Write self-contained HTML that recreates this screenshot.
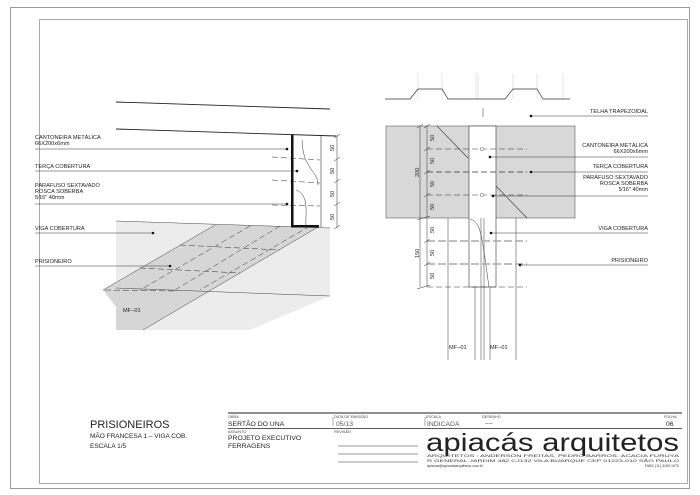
<!DOCTYPE html>
<html><head><meta charset="utf-8"><style>
html,body{margin:0;padding:0;background:#fff;}
svg{display:block;font-family:"Liberation Sans",sans-serif;}
.t{font-size:5.6px;fill:#222;}
.tr{font-size:5.6px;fill:#222;text-anchor:end;}
</style></head><body>
<svg width="700" height="495" viewBox="0 0 700 495" xmlns="http://www.w3.org/2000/svg">
<rect x="10.5" y="7.5" width="679" height="481" fill="none" stroke="#999" stroke-width="1"/>
<rect x="39.5" y="19.5" width="648" height="464" fill="none" stroke="#aaa" stroke-width="1"/>

<!-- LEFT DRAWING -->
<polygon points="116,221 330,228 330,330 116,330" fill="#ececec"/>
<polygon points="330,296 330,330 250,330" fill="#fff"/>
<polygon points="215,225 318,227 143,330 116,330 116,307 103,290" fill="#d6d6d6"/>
<line x1="116" y1="102" x2="330" y2="109" stroke="#222" stroke-width="0.9"/>
<line x1="116" y1="129" x2="336" y2="136" stroke="#222" stroke-width="0.9"/>
<line x1="116" y1="221" x2="330" y2="228" stroke="#444" stroke-width="0.5"/>
<line x1="116" y1="288" x2="330" y2="296" stroke="#444" stroke-width="0.5"/>
<line x1="215" y1="225" x2="103" y2="290" stroke="#444" stroke-width="0.5"/>
<line x1="318" y1="227" x2="143" y2="330" stroke="#444" stroke-width="0.5"/>
<g stroke="#333" stroke-width="0.5" stroke-dasharray="6,3" fill="none">
<line x1="180" y1="245" x2="280" y2="250"/>
<line x1="140" y1="268" x2="240" y2="273"/>
<line x1="105" y1="290" x2="175" y2="291"/>
<line x1="250" y1="226" x2="140" y2="290"/>
<line x1="280" y1="226" x2="175" y2="290"/>
<line x1="310" y1="226" x2="200" y2="290"/>
<line x1="272" y1="157" x2="320" y2="160"/>
<line x1="272" y1="180" x2="320" y2="183"/>
<line x1="272" y1="205" x2="320" y2="206"/>
</g>
<rect x="291" y="135" width="2.5" height="92" fill="#111"/>
<rect x="291" y="225" width="28" height="2.5" fill="#111"/>
<line x1="321" y1="136" x2="321" y2="227" stroke="#333" stroke-width="0.6"/>
<path d="M302,140 C303,170 318,170 318,185 M296,190 C310,195 305,215 306,226" stroke="#333" stroke-width="0.5" fill="none"/>
<line x1="337" y1="135" x2="337" y2="228" stroke="#333" stroke-width="0.5"/>
<g stroke="#333" stroke-width="0.5"><line x1="334" y1="138" x2="340" y2="134"/><line x1="334" y1="161" x2="340" y2="157"/><line x1="334" y1="183" x2="340" y2="179"/><line x1="334" y1="206" x2="340" y2="202"/><line x1="334" y1="229" x2="340" y2="225"/></g>
<g class="t" font-size="5.6">
<text transform="translate(334,151) rotate(-90)">50</text>
<text transform="translate(334,174) rotate(-90)">50</text>
<text transform="translate(334,197) rotate(-90)">50</text>
<text transform="translate(334,220) rotate(-90)">50</text>
</g>
<text class="t" x="35" y="139">CANTONEIRA  METÁLICA</text>
<text class="t" x="35" y="145">66X200x6mm</text>
<line x1="35" y1="149" x2="288" y2="149" stroke="#333" stroke-width="0.5"/><circle cx="287" cy="149" r="1.3" fill="#111"/>
<text class="t" x="35" y="168">TERÇA  COBERTURA</text>
<line x1="35" y1="171" x2="297" y2="171" stroke="#333" stroke-width="0.5"/><circle cx="297" cy="171" r="1.3" fill="#111"/>
<text class="t" x="35" y="187">PARAFUSO  SEXTAVADO</text>
<text class="t" x="35" y="193">ROSCA  SOBERBA</text>
<text class="t" x="35" y="199">5⁄16"   40mm</text>
<line x1="35" y1="204" x2="288" y2="204" stroke="#333" stroke-width="0.5"/><circle cx="287" cy="204" r="1.3" fill="#111"/>
<text class="t" x="35" y="230">VIGA  COBERTURA</text>
<line x1="35" y1="233" x2="153" y2="233" stroke="#333" stroke-width="0.5"/><circle cx="153" cy="233" r="1.3" fill="#111"/>
<text class="t" x="35" y="263">PRISIONEIRO</text>
<line x1="35" y1="266" x2="170" y2="266" stroke="#333" stroke-width="0.5"/><circle cx="170" cy="266" r="1.3" fill="#111"/>
<text class="t" x="123" y="312">MF−01</text>

<!-- RIGHT DRAWING -->
<g stroke="#ccc" stroke-width="0.5">
<line x1="418" y1="73" x2="418" y2="99"/><line x1="442" y1="73" x2="442" y2="99"/>
<line x1="476" y1="73" x2="476" y2="99"/><line x1="478" y1="73" x2="478" y2="99"/>
<line x1="513" y1="73" x2="513" y2="99"/><line x1="537" y1="73" x2="537" y2="99"/><line x1="563" y1="73" x2="563" y2="99"/>
</g>
<polyline points="385,99 410,99 418,89 442,89 448,99 505,99 513,89 537,89 543,99 570,99" fill="none" stroke="#333" stroke-width="0.7"/>
<line x1="483" y1="108" x2="483" y2="117" stroke="#333" stroke-width="0.5"/>
<rect x="386" y="126" width="189" height="92" fill="#d8d8d8" stroke="#444" stroke-width="0.5"/>
<rect x="469" y="126" width="27" height="161" fill="#fff" stroke="#333" stroke-width="0.6"/>
<line x1="437" y1="126" x2="468" y2="158" stroke="#333" stroke-width="0.6"/>
<line x1="496" y1="186" x2="527" y2="218" stroke="#333" stroke-width="0.6"/>
<g stroke="#333" stroke-width="0.5">
<line x1="448" y1="218" x2="448" y2="360"/><line x1="516" y1="218" x2="516" y2="360"/>
<line x1="475" y1="287" x2="475" y2="360"/><line x1="481" y1="218" x2="481" y2="360"/><line x1="484" y1="218" x2="484" y2="360"/><line x1="490" y1="287" x2="490" y2="360"/>
</g>
<path d="M470,219 C482,222 482,240 489,287" stroke="#333" stroke-width="0.5" fill="none"/>
<g stroke="#333" stroke-width="0.5" stroke-dasharray="6,3" fill="none">
<line x1="427" y1="149" x2="527" y2="149"/>
<line x1="427" y1="172" x2="527" y2="172" stroke-width="0.8"/>
<line x1="427" y1="195" x2="527" y2="195"/>
<line x1="427" y1="287" x2="527" y2="287"/>
</g>
<g stroke="#aaa" stroke-width="1.4" stroke-dasharray="8,3" fill="none">
<line x1="427" y1="241" x2="527" y2="241"/>
<line x1="427" y1="264" x2="527" y2="264"/>
</g>
<circle cx="482" cy="149" r="1.8" fill="#fff" stroke="#555" stroke-width="0.5"/>
<circle cx="482" cy="195" r="1.8" fill="#fff" stroke="#555" stroke-width="0.5"/>
<line x1="427" y1="126" x2="427" y2="287" stroke="#333" stroke-width="0.5"/>
<line x1="420" y1="126" x2="420" y2="287" stroke="#333" stroke-width="0.5"/>
<g stroke="#333" stroke-width="0.5">
<line x1="424" y1="128" x2="430" y2="124"/><line x1="424" y1="151" x2="430" y2="147"/><line x1="424" y1="174" x2="430" y2="170"/><line x1="424" y1="197" x2="430" y2="193"/><line x1="417" y1="220" x2="430" y2="216"/><line x1="424" y1="243" x2="430" y2="239"/><line x1="424" y1="266" x2="430" y2="262"/><line x1="417" y1="289" x2="430" y2="285"/><line x1="417" y1="128" x2="423" y2="124"/>
</g>
<g class="t">
<text transform="translate(434,141) rotate(-90)">50</text>
<text transform="translate(434,164) rotate(-90)">50</text>
<text transform="translate(434,187) rotate(-90)">50</text>
<text transform="translate(434,210) rotate(-90)">50</text>
<text transform="translate(434,233) rotate(-90)">50</text>
<text transform="translate(434,256) rotate(-90)">50</text>
<text transform="translate(434,279) rotate(-90)">50</text>
<text transform="translate(419,177) rotate(-90)">200</text>
<text transform="translate(419,258) rotate(-90)">150</text>
</g>
<text class="tr" x="648" y="113">TELHA  TRAPEZOIDAL</text>
<line x1="531" y1="116" x2="648" y2="116" stroke="#333" stroke-width="0.5"/><circle cx="531" cy="116" r="1.3" fill="#111"/>
<text class="tr" x="648" y="147">CANTONEIRA  METÁLICA</text>
<text class="tr" x="648" y="153">66X200x6mm</text>
<line x1="490" y1="157" x2="648" y2="157" stroke="#333" stroke-width="0.5"/><circle cx="490" cy="157" r="1.3" fill="#111"/>
<text class="tr" x="648" y="168">TERÇA  COBERTURA</text>
<line x1="531" y1="172" x2="648" y2="172" stroke="#333" stroke-width="0.5"/><circle cx="531" cy="172" r="1.3" fill="#111"/>
<text class="tr" x="648" y="179">PARAFUSO  SEXTAVADO</text>
<text class="tr" x="648" y="185">ROSCA  SOBERBA</text>
<text class="tr" x="648" y="191">5⁄16"   40mm</text>
<line x1="493" y1="196" x2="648" y2="196" stroke="#333" stroke-width="0.5"/><circle cx="493" cy="196" r="1.3" fill="#111"/>
<text class="tr" x="648" y="230">VIGA  COBERTURA</text>
<line x1="491" y1="233" x2="648" y2="233" stroke="#333" stroke-width="0.5"/><circle cx="491" cy="233" r="1.3" fill="#111"/>
<text class="tr" x="648" y="262">PRISIONEIRO</text>
<line x1="520" y1="265" x2="648" y2="265" stroke="#333" stroke-width="0.5"/><circle cx="520" cy="265" r="1.3" fill="#111"/>
<text class="t" x="449" y="349">MF−01</text>
<text class="t" x="490" y="349">MF−01</text>

<!-- TITLE -->
<text x="90" y="428" font-size="11" fill="#222">PRISIONEIROS</text>
<text x="90" y="438" font-size="6.5" fill="#222">MÃO  FRANCESA  1  –  VIGA  COB.</text>
<text x="90" y="448" font-size="6.5" fill="#222">ESCALA  1/5</text>

<line x1="228" y1="413" x2="682" y2="413" stroke="#222" stroke-width="1"/>
<line x1="228" y1="428.5" x2="682" y2="428.5" stroke="#222" stroke-width="0.8"/>
<line x1="333" y1="417" x2="333" y2="426" stroke="#555" stroke-width="0.5"/>
<line x1="425" y1="417" x2="425" y2="426" stroke="#555" stroke-width="0.5"/>
<g font-size="3.8" fill="#444">
<text x="228" y="418">OBRA</text>
<text x="334" y="418">DATA DE EMISSÃO</text>
<text x="426" y="418">ESCALA</text>
<text x="482" y="418">DESENHO</text>
<text x="664" y="418">FOLHA</text>
<text x="228" y="433">ASSUNTO</text>
<text x="334" y="433">REVISÃO</text>
</g>
<g font-size="6.8" fill="#222">
<text x="228" y="426">SERTÃO  DO  UNA</text>
<text x="336" y="426" fill="#555">05/13</text>
<text x="427" y="426" fill="#555">INDICADA</text>
<text x="485" y="426" fill="#555">−−</text>
<text x="666" y="426">06</text>
<text x="228" y="440">PROJETO  EXECUTIVO</text>
<text x="228" y="448">FERRAGENS</text>
</g>
<g stroke="#333" stroke-width="0.5">
<line x1="338" y1="446" x2="418" y2="446"/><line x1="338" y1="454" x2="418" y2="454"/><line x1="338" y1="462" x2="418" y2="462"/>
</g>
<text x="426" y="451" font-size="25" fill="#222" textLength="253" lengthAdjust="spacingAndGlyphs">apiacás arquitetos</text>
<g font-size="3.6" fill="#333">
<text x="427" y="457" textLength="252" lengthAdjust="spacingAndGlyphs">ARQUITETOS :   ANDERSON   FREITAS,   PEDRO   BARROS,   ACACIA   FURUYA</text>
<text x="427" y="462" textLength="252" lengthAdjust="spacingAndGlyphs">R GENERAL JARDIM 482 CJ132 VILA BUARQUE CEP 01223-010 SÃO PAULO</text>
<text x="427" y="467">apiacas@apiacasarquitetos.com.br</text>
<text x="679" y="467" text-anchor="end">FABX (11) 3159 1970</text>
</g>
</svg>
</body></html>
